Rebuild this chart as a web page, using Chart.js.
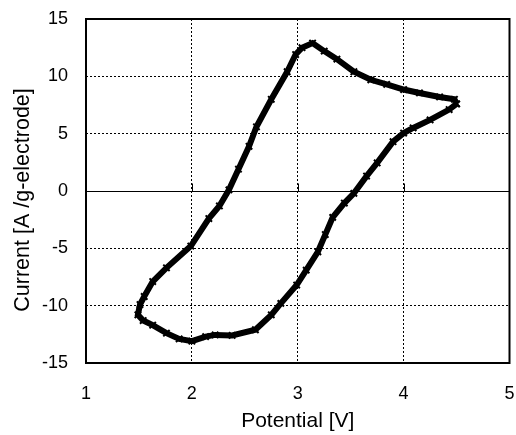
<!DOCTYPE html>
<html>
<head>
<meta charset="utf-8">
<script src="https://cdn.jsdelivr.net/npm/chart.js@4"></script>
<style>
  html, body { margin: 0; padding: 0; background: #fff; }
  #wrap { width: 516px; height: 435px; }
</style>
</head>
<body>
<div id="wrap"><canvas id="cv"></canvas></div>
<script>
// CV loop: starts at the 4.5 V vertex, goes down the
// cathodic branch, then back up the anodic branch.
const potential = [
  4.50, 4.43, 4.25, 4.09, 4.00, 3.90, 3.75, 3.65, 3.53, 3.44, 3.33, 3.26, 3.19, 3.08, 2.99,
  2.84, 2.75, 2.60, 2.38, 2.22, 2.13, 2.00, 1.88, 1.76, 1.63, 1.54, 1.49,
  1.51, 1.55, 1.63, 1.76, 1.99, 2.16, 2.26, 2.35, 2.44, 2.54, 2.61, 2.75, 2.90, 2.98,
  3.04, 3.14, 3.25, 3.37, 3.53, 3.69, 3.84, 4.00, 4.15, 4.34, 4.48, 4.50
];
const current = [
  7.6, 7.1, 6.2, 5.5, 5.05, 4.3, 2.45, 1.3, -0.2, -1.05, -2.3, -3.8, -5.3, -6.9, -8.2,
  -9.8, -10.8, -12.1, -12.6, -12.55, -12.7, -13.1, -12.9, -12.4, -11.7, -11.3, -10.8,
  -9.9, -9.2, -7.9, -6.7, -4.8, -2.4, -1.3, 0.1, 1.9, 3.9, 5.6, 8.0, 10.4, 11.9,
  12.5, 12.9, 12.2, 11.5, 10.4, 9.7, 9.3, 8.85, 8.55, 8.2, 8.0, 7.6
];
const xTicks = [1, 2, 3, 4, 5];
const yTicks = [-15, -10, -5, 0, 5, 10, 15];

const FONT = "'Liberation Sans', Arial, sans-serif";

// solid frame round the plot area plus the small ticks on the zero line
const framePlugin = {
  id: 'frame',
  afterDatasetsDraw(chart) {
    const { ctx, chartArea: a, scales } = chart;
    ctx.save();
    ctx.strokeStyle = '#000';
    ctx.lineWidth = 1;
    const y0 = Math.round(scales.y.getPixelForValue(0)) + 0.5;
    ctx.beginPath();
    xTicks.slice(1, -1).forEach(v => {
      const px = Math.round(scales.x.getPixelForValue(v)) + 0.5;
      ctx.moveTo(px, y0);
      ctx.lineTo(px, y0 - 8);
    });
    ctx.stroke();
    ctx.lineWidth = 2;
    ctx.strokeRect(a.left, a.top, a.right - a.left, a.bottom - a.top);
    ctx.restore();
  }
};

// no automatic label padding, the layout padding alone places the plot area
const noPad = (s) => { s.paddingLeft = 0; s.paddingRight = 0; s.paddingTop = 0; s.paddingBottom = 0; };

new Chart(document.getElementById('cv'), {
  type: 'scatter',
  data: {
    datasets: [{
      data: potential.map((x, i) => ({ x, y: current[i] })),
      showLine: true,
      borderColor: '#000',
      borderWidth: 6,
      pointStyle: 'crossRot',
      pointRadius: 4.5,
      pointBorderWidth: 2,
      pointBorderColor: '#000',
      pointBackgroundColor: '#000',
    }]
  },
  options: {
    responsive: true,
    maintainAspectRatio: false,
    animation: false,
    layout: { padding: { left: 0, right: 3, top: 19, bottom: 0 } },
    scales: {
      x: {
        type: 'linear',
        min: 1,
        max: 5,
        afterBuildTicks: (s) => { s.ticks = xTicks.map(v => ({ value: v })); },
        afterFit: (s) => { s.height = 72; noPad(s); },
        grid: {
          color: '#000',
          lineWidth: 1,
          drawTicks: false,
        },
        border: { display: false, dash: [2, 2] },
        ticks: {
          color: '#000',
          padding: 20,
          font: { family: FONT, size: 18 }
        },
        title: {
          display: true,
          text: 'Potential [V]',
          color: '#000',
          font: { family: FONT, size: 21 },
          padding: { top: 0, bottom: 1 }
        }
      },
      y: {
        type: 'linear',
        min: -15,
        max: 15,
        afterBuildTicks: (s) => { s.ticks = yTicks.map(v => ({ value: v })); },
        afterFit: (s) => { s.width = 86; noPad(s); },
        grid: {
          color: '#000',
          lineWidth: 1,
          drawTicks: false,
        },
        border: {
          display: false,
          dash: (c) => (c.tick && c.tick.value === 0 ? [] : [2, 2])
        },
        ticks: {
          color: '#000',
          padding: 18,
          font: { family: FONT, size: 18 }
        },
        title: {
          display: true,
          // trailing spaces nudge the centred title down, as in the picture
          text: 'Current [A /g-electrode]   ',
          color: '#000',
          font: { family: FONT, size: 21.5 },
          padding: { top: 10, bottom: 0 }
        }
      }
    },
    plugins: {
      legend: { display: false },
      tooltip: { enabled: false }
    }
  },
  plugins: [framePlugin]
});
</script>
</body>
</html>
